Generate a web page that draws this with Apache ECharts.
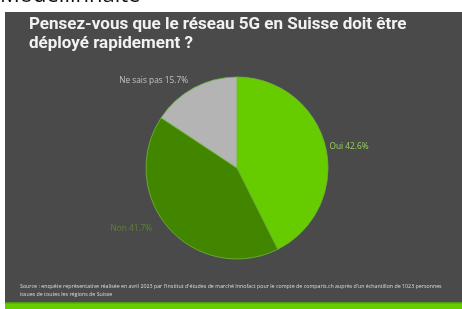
<!DOCTYPE html>
<html>
<head>
<meta charset="utf-8">
<script src="https://cdn.jsdelivr.net/npm/echarts@6/dist/echarts.min.js"></script>
<style>
html, body { margin: 0; padding: 0; background: #ffffff; }
#main { width: 462px; height: 309px; }
</style>
</head>
<body>
<div id="main"></div>
<script>
// données du sondage
var categories = ['Oui', 'Non', 'Ne sais pas'];
var values = [42.6, 41.7, 15.7];
var colors = ['#66cc00', '#428600', '#b4b4b4'];
var labelColors = ['#95d45a', '#5e8236', '#c4c4c4'];
// longueur des traits (invisibles) pour placer les libellés
var lineLen = [2, 1, 8];
var lineLen2 = [0, 14, 0];

var titleText = 'Pensez-vous que le réseau 5G en Suisse doit être\ndéployé rapidement ?';
var sourceText = "Source : enquête représentative réalisée en avril 2023 par l'Institut d'études de marché Innofact pour le compte de comparis.ch auprès d'un échantillon de 1023 personnes\nissues de toutes les régions de Suisse";

var pieData = [];
for (var i = 0; i < categories.length; i++) {
    pieData.push({
        name: categories[i],
        value: values[i],
        itemStyle: { color: colors[i] },
        label: { color: labelColors[i] },
        labelLine: { length: lineLen[i], length2: lineLen2[i] }
    });
}

var myChart = echarts.init(document.getElementById('main'));
var option = {
    backgroundColor: '#ffffff',
    animation: false,
    title: {
        text: titleText,
        left: 29,
        top: 15,
        padding: 0,
        textStyle: {
            color: '#f2f2f2',
            fontFamily: 'Roboto',
            fontWeight: 'bold',
            fontSize: 17,
            lineHeight: 19
        }
    },
    graphic: [
        {
            type: 'text', left: 0, top: -15, z: -5,
            style: { text: 'Modellinhalte', fill: '#111111', font: '22px "Open Sans"' }
        },
        {
            type: 'rect', z: -10,
            shape: { x: 5, y: 12, width: 457, height: 290 },
            style: { fill: '#4a4a4a' }
        },
        {
            type: 'rect', z: -10,
            shape: { x: 5, y: 302, width: 457, height: 7 },
            style: { fill: '#66cc00' }
        },
        {
            type: 'rect', z: -9,
            shape: { x: 5, y: 302, width: 457, height: 1.5 },
            style: { fill: '#4e9a10' }
        },
        {
            type: 'text', left: 20, top: 282,
            style: {
                text: sourceText,
                fill: '#dcdcdc',
                font: '5.3px "Open Sans"',
                lineHeight: 8
            }
        }
    ],
    series: [
        {
            type: 'pie',
            center: [237, 168],
            radius: 91,
            startAngle: 90,
            clockwise: true,
            avoidLabelOverlap: false,
            itemStyle: { borderColor: '#6fb83a', borderWidth: 0.8 },
            label: {
                show: true,
                position: 'outside',
                formatter: '{b} {c}%',
                fontFamily: 'Open Sans',
                fontSize: 8.3,
                distanceToLabelLine: 2
            },
            labelLine: { show: false },
            data: pieData
        }
    ]
};
myChart.setOption(option);
</script>
</body>
</html>
